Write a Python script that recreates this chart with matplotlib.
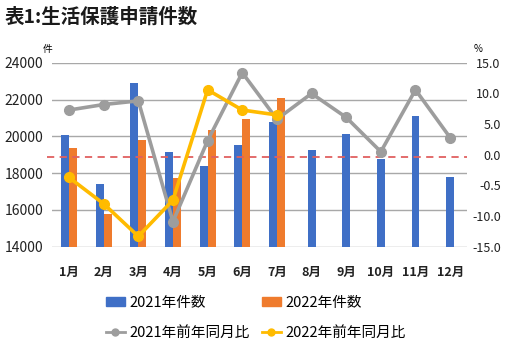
import matplotlib
matplotlib.use('Agg')
import matplotlib.pyplot as plt
from matplotlib.lines import Line2D
from matplotlib.patches import Patch
import numpy as np

plt.rcParams['font.family'] = ['Noto Sans CJK JP', 'DejaVu Sans']

months = ['1月', '2月', '3月', '4月', '5月', '6月', '7月', '8月', '9月', '10月', '11月', '12月']
count_2021 = [20080, 17430, 22880, 19150, 18370, 19510, 20790, 19240, 20110, 18750, 21100, 17770]
count_2022 = [19360, 15760, 19800, 17750, 20340, 20920, 22080]
yoy_2021 = [7.3, 8.2, 8.8, -10.9, 2.3, 13.4, 5.8, 10.0, 6.1, 0.5, 10.6, 2.8]
yoy_2022 = [-3.7, -8.0, -13.3, -7.4, 10.6, 7.3, 6.5]

left_ticks = [14000, 16000, 18000, 20000, 22000, 24000]
right_ticks = [-15, -10, -5, 0, 5, 10, 15]
right_labels = ['-15.0', '-10.0', '-0.5', '0.0', '5.0', '10.0', '15.0']

blue = '#3f6fc6'
orange = '#ef7b2d'
gray = '#9d9d9d'
yellow = '#ffbb00'
grid_c = '#a8a8a8'

fig = plt.figure(figsize=(5.12, 3.53), dpi=100)
ax = fig.add_axes([0.101, 0.301, 0.812, 0.521])
ax2 = ax.twinx()

w = 0.23
x = np.arange(len(months))
n22 = len(count_2022)
# bars are centred on months that have no 2022 value
x21 = np.where(x < n22, x - w / 2, x)
ax.bar(x21, count_2021, width=w, color=blue, zorder=2)
ax.bar(x[:n22] + w / 2, count_2022, width=w, color=orange, zorder=2)

ax.set_ylim(14000, 24000)
ax.set_yticks(left_ticks)
ax.set_xlim(-0.5, len(months) - 0.5)
ax.set_xticks(x)
ax.set_xticklabels(months, fontsize=9, fontweight='bold', color='#222222')
ax.tick_params(axis='x', length=0, pad=14)
ax.tick_params(axis='y', length=0, pad=6, labelsize=10, labelcolor='#222222')
ax.grid(axis='y', color=grid_c, lw=1, zorder=0)
ax.set_axisbelow(True)
for s in ax.spines.values():
    s.set_visible(False)

ax2.axhline(-0.3, xmin=-0.012, xmax=1.0, color='#e06060', lw=1.3, ls=(0, (4, 3)),
            zorder=1, clip_on=False)
ax2.plot(x, yoy_2021, color=gray, lw=2.6, marker='o', ms=7, zorder=3)
ax2.plot(x[:len(yoy_2022)], yoy_2022, color=yellow, lw=2.6, marker='o', ms=7, zorder=4)
ax2.set_ylim(-15, 15)
ax2.set_yticks(right_ticks)
ax2.set_yticklabels(right_labels, fontsize=9, color='#222222', ha='right')
ax2.tick_params(axis='y', length=0, pad=24)
for s in ax2.spines.values():
    s.set_visible(False)

fig.text(0.092, 0.862, '件', fontsize=7, ha='center', va='center')
fig.text(0.934, 0.862, '%', fontsize=7, ha='center', va='center')
fig.text(0.01, 0.953, '表1:生活保護申請件数', fontsize=14, fontweight='bold', ha='left', va='center', color='#1a1a1a')

handles = [
    Patch(color=blue),
    Line2D([], [], color=gray, lw=2, marker='o', ms=5),
    Patch(color=orange),
    Line2D([], [], color=yellow, lw=2, marker='o', ms=5),
]
labels = ['2021年件数', '2021年前年同月比', '2022年件数', '2022年前年同月比']
fig.legend(handles, labels, ncol=2, loc='center', bbox_to_anchor=(0.5, 0.1),
           frameon=False, fontsize=10.5, handlelength=1.3, handleheight=0.5,
           handletextpad=0.35, columnspacing=0.8, labelspacing=1.1)

fig.savefig('out.png', dpi=100)
